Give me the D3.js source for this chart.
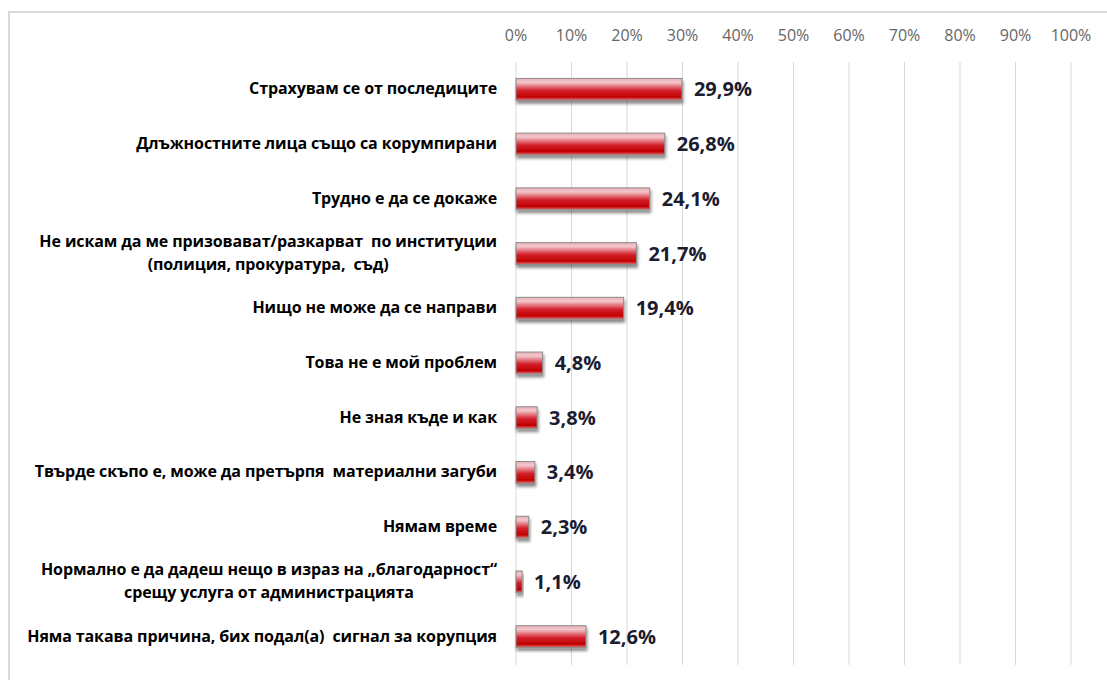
<!DOCTYPE html>
<html>
<head>
<meta charset="utf-8">
<script src="https://cdn.jsdelivr.net/npm/d3@7"></script>
<style>
  body { margin: 0; background: #fff; }
  svg { display: block; }
</style>
</head>
<body>
<div id="chart"></div>
<script>
// data
var categories = [
    ["Страхувам се от последиците"],
    ["Длъжностните лица също са корумпирани"],
    ["Трудно е да се докаже"],
    ["Не искам да ме призовават/разкарват  по институции", "(полиция, прокуратура,  съд)"],
    ["Нищо не може да се направи"],
    ["Това не е мой проблем"],
    ["Не зная къде и как"],
    ["Твърде скъпо е, може да претърпя  материални загуби"],
    ["Нямам време"],
    ["Нормално е да дадеш нещо в израз на „благодарност“", "срещу услуга от администрацията"],
    ["Няма такава причина, бих подал(а)  сигнал за корупция"]
];
var values = [29.9, 26.8, 24.1, 21.7, 19.4, 4.8, 3.8, 3.4, 2.3, 1.1, 12.6];
var ticks = [0, 10, 20, 30, 40, 50, 60, 70, 80, 90, 100];

var width = 1107, height = 680;
var fontFam = "'Open Sans', sans-serif";

var svg = d3.select("#chart").append("svg")
    .attr("width", width)
    .attr("height", height);

var defs = svg.append("defs");
var grad = defs.append("linearGradient")
    .attr("id", "barGrad")
    .attr("x1", 0).attr("y1", 0).attr("x2", 0).attr("y2", 1);
grad.append("stop").attr("offset", "0%").attr("stop-color", "#eab0b6");
grad.append("stop").attr("offset", "18%").attr("stop-color", "#f3c6cb");
grad.append("stop").attr("offset", "55%").attr("stop-color", "#d3202c");
grad.append("stop").attr("offset", "85%").attr("stop-color", "#c00000");
grad.append("stop").attr("offset", "100%").attr("stop-color", "#e27a80");

var shadow = defs.append("filter")
    .attr("id", "shadow")
    .attr("x", "-10%").attr("y", "-30%")
    .attr("width", "130%").attr("height", "180%");
shadow.append("feDropShadow")
    .attr("dx", 1).attr("dy", 3)
    .attr("stdDeviation", 1.5)
    .attr("flood-color", "#000")
    .attr("flood-opacity", 0.45);

// chart frame (only top and left visible)
svg.append("path")
    .attr("d", "M9," + height + " V12 H" + width)
    .attr("fill", "none")
    .attr("stroke", "#d9d9d9")
    .attr("stroke-width", 2);

var x = d3.scaleLinear().domain([0, 100]).range([516, 1071]);
var y = d3.scaleBand()
    .domain(d3.range(categories.length))
    .range([62, 664])
    .paddingInner(0.6)
    .paddingOuter(0.3);

// gridlines
svg.append("g")
    .selectAll("line")
    .data(ticks)
    .join("line")
    .attr("x1", d => x(d)).attr("x2", d => x(d))
    .attr("y1", 62).attr("y2", 665)
    .attr("stroke", "#d9d9d9")
    .attr("stroke-width", 1);

// top axis labels
svg.append("g")
    .selectAll("text")
    .data(ticks)
    .join("text")
    .attr("x", d => x(d))
    .attr("y", 41)
    .attr("text-anchor", "middle")
    .attr("font-family", fontFam)
    .attr("font-size", 16)
    .attr("fill", "#666")
    .text(d => d + "%");

// bars
svg.append("g")
    .selectAll("rect")
    .data(values)
    .join("rect")
    .attr("x", x(0))
    .attr("y", (d, i) => y(i))
    .attr("width", d => x(d) - x(0))
    .attr("height", y.bandwidth())
    .attr("fill", "url(#barGrad)")
    .attr("stroke", "#8c8c8c")
    .attr("stroke-width", 1)
    .attr("filter", "url(#shadow)");

// value labels
svg.append("g")
    .selectAll("text")
    .data(values)
    .join("text")
    .attr("x", d => x(d) + 12)
    .attr("y", (d, i) => y(i) + y.bandwidth() / 2 + 7)
    .attr("font-family", fontFam)
    .attr("font-weight", "bold")
    .attr("font-size", 20)
    .attr("fill", "#1c1c30")
    .text(d => d.toFixed(1).replace(".", ",") + "%");

// category labels, right aligned block with centred lines
var labelG = svg.append("g")
    .selectAll("g")
    .data(categories)
    .join("g")
    .attr("transform", (d, i) => "translate(0," + (y(i) + y.bandwidth() / 2) + ")");

labelG.each(function(lines) {
    var g = d3.select(this);
    var texts = g.selectAll("text")
        .data(lines)
        .join("text")
        .attr("font-family", fontFam)
        .attr("font-weight", "bold")
        .attr("font-size", 16)
        .attr("letter-spacing", -0.1)
        .attr("fill", "#000")
        .attr("text-anchor", "middle")
        .attr("xml:space", "preserve")
        .attr("y", (d, i) => (i - (lines.length - 1) / 2) * 23 + 5)
        .text(d => d);
    var widths = texts.nodes().map(n => n.getComputedTextLength());
    var maxW = d3.max(widths);
    texts.attr("x", 497 - maxW / 2);
});
</script>
</body>
</html>
